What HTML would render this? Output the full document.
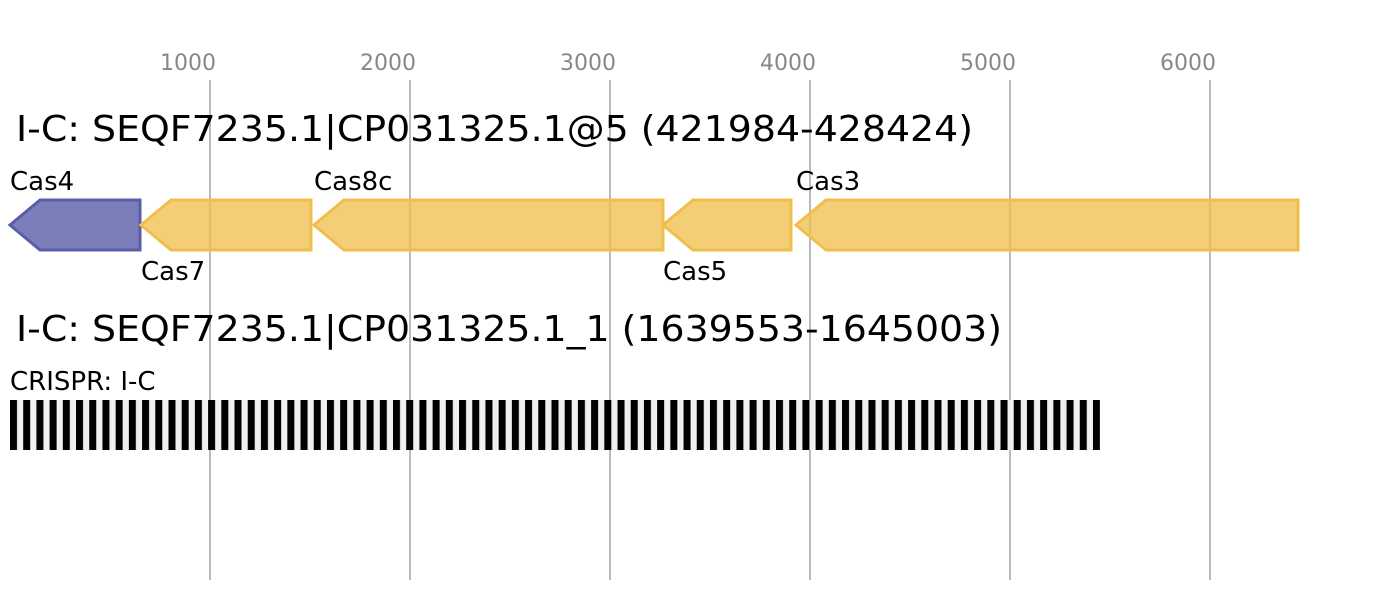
<!DOCTYPE html>
<html><head><style>html,body{margin:0;padding:0;background:#fff}</style></head>
<body>
<svg width="1388" height="600" xmlns="http://www.w3.org/2000/svg" font-family="DejaVu Sans, sans-serif">
<defs>
<pattern id="cr" x="10" y="0" width="13.207" height="600" patternUnits="userSpaceOnUse">
<rect x="0" y="0" width="13.207" height="600" fill="#f0f0f0"/>
<rect x="0" y="0" width="7" height="600" fill="#000"/>
</pattern>
</defs>
<g stroke="#bbb" stroke-width="2">
<line x1="210" y1="80" x2="210" y2="580"/><line x1="410" y1="80" x2="410" y2="580"/>
<line x1="610" y1="80" x2="610" y2="580"/><line x1="810" y1="80" x2="810" y2="580"/>
<line x1="1010" y1="80" x2="1010" y2="580"/><line x1="1210" y1="80" x2="1210" y2="580"/>
</g>
<g fill="#888" font-size="22" text-anchor="middle">
<text x="188" y="70">1000</text><text x="388" y="70">2000</text><text x="588" y="70">3000</text>
<text x="788" y="70">4000</text><text x="988" y="70">5000</text><text x="1188" y="70">6000</text>
</g>
<text x="16" y="141" font-size="36" textLength="957" lengthAdjust="spacingAndGlyphs">I-C: SEQF7235.1|CP031325.1@5 (421984-428424)</text>
<text x="16" y="341" font-size="36" textLength="986" lengthAdjust="spacingAndGlyphs">I-C: SEQF7235.1|CP031325.1_1 (1639553-1645003)</text>
<g stroke-width="3" stroke-linejoin="miter">
<polygon points="140,200 40,200 10,225 40,250 140,250" fill="#5a5ea8" fill-opacity="0.8" stroke="#5a5ea8"/>
<polygon points="311,200 171,200 141,225 171,250 311,250" fill="#f0be4a" fill-opacity="0.75" stroke="#f0be4a"/>
<polygon points="663,200 344,200 314,225 344,250 663,250" fill="#f0be4a" fill-opacity="0.75" stroke="#f0be4a"/>
<polygon points="791,200 693,200 663,225 693,250 791,250" fill="#f0be4a" fill-opacity="0.75" stroke="#f0be4a"/>
<polygon points="1298,200 826,200 796,225 826,250 1298,250" fill="#f0be4a" fill-opacity="0.75" stroke="#f0be4a"/>
</g>
<g font-size="26" fill="#000">
<text x="10" y="190">Cas4</text><text x="141" y="280">Cas7</text><text x="314" y="190">Cas8c</text>
<text x="663" y="280">Cas5</text><text x="796" y="190">Cas3</text>
<text x="10" y="390">CRISPR: I-C</text>
</g>
<rect x="10" y="400" width="1090" height="50" fill="url(#cr)"/>
</svg>
</body></html>
